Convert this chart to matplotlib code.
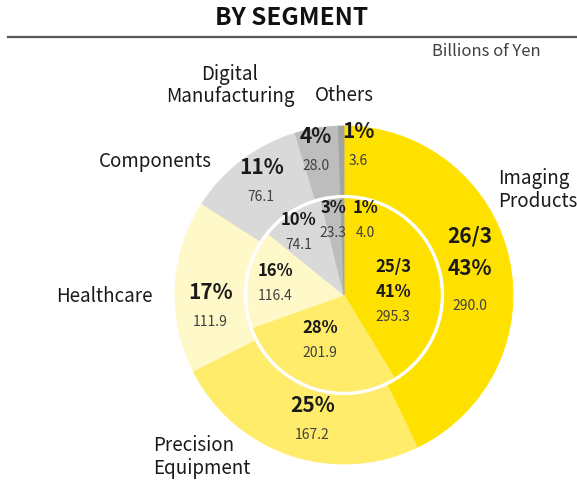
import numpy as np
import matplotlib
matplotlib.use("Agg")
import matplotlib.pyplot as plt
from matplotlib.lines import Line2D

plt.rcParams["font.family"] = ["Noto Sans CJK JP", "DejaVu Sans"]

segments = ["Imaging\nProducts", "Precision\nEquipment", "Healthcare",
            "Components", "Digital\nManufacturing", "Others"]
outer_vals = [290.0, 167.2, 111.9, 76.1, 28.0, 3.6]      # 26/3
outer_pct = ["43%", "25%", "17%", "11%", "4%", "1%"]
inner_vals = [295.3, 201.9, 116.4, 74.1, 23.3, 4.0]      # 25/3
inner_pct = ["41%", "28%", "16%", "10%", "3%", "1%"]
colors = ["#ffe100", "#ffec6a", "#fff8c9", "#d9d9d9", "#bdbdbd", "#a3a3a3"]

# label placement (radius in pie units, angle in degrees)
outer_lab_r = [0.76, 0.68, 0.79, 0.90, 0.95, 0.97]
outer_lab_a = [12, -106, 179, 123, 100, 85]
inner_lab_r = [0.29, 0.24, 0.43, 0.52, 0.52, 0.53]
inner_lab_a = [3, -126, 161, 121, 97, 76]
name_pos = [(0.91, 0.62, "left"), (-1.13, -0.96, "left"), (-1.135, -0.01, "right"),
            (-0.78, 0.79, "right"), (-0.675, 1.24, "center"), (0.005, 1.18, "center")]

fig = plt.figure(figsize=(5.77, 4.84), dpi=100)
ax = fig.add_axes([175 / 577, 20 / 484, 338 / 577, 338 / 484])

w_out, _ = ax.pie(outer_vals, radius=1.0, startangle=90, counterclock=False,
                  colors=colors, wedgeprops=dict(width=0.405, linewidth=0.6))
w_in, _ = ax.pie(inner_vals, radius=0.57, startangle=90, counterclock=False,
                 colors=colors, wedgeprops=dict(linewidth=0.6))
for w in list(w_out) + list(w_in):
    w.set_edgecolor(w.get_facecolor())
ax.set_xlim(-1, 1)
ax.set_ylim(-1, 1)
ax.set_aspect("equal")
ax.axis("off")

dark = "#1a1a1a"
grey = "#404040"


def pol(r, a):
    t = np.deg2rad(a)
    return r * np.cos(t), r * np.sin(t)


for i in range(len(outer_vals)):
    x, y = pol(outer_lab_r[i], outer_lab_a[i])
    ax.text(x, y, outer_pct[i], ha="center", va="center", fontsize=15,
            fontweight="bold", color=dark)
    gap = 27 if i == 0 else 21
    ax.annotate(f"{outer_vals[i]:.1f}", (x, y), xytext=(0, -gap),
                textcoords="offset points", ha="center", va="center",
                fontsize=10, color=grey)
    if i == 0:
        ax.annotate("26/3", (x, y), xytext=(0, 23), textcoords="offset points",
                    ha="center", va="center", fontsize=15, fontweight="bold",
                    color=dark)

for i in range(len(inner_vals)):
    x, y = pol(inner_lab_r[i], inner_lab_a[i])
    ax.text(x, y, inner_pct[i], ha="center", va="center", fontsize=12,
            fontweight="bold", color=dark)
    ax.annotate(f"{inner_vals[i]:.1f}", (x, y), xytext=(0, -18),
                textcoords="offset points", ha="center", va="center",
                fontsize=10, color=grey)
    if i == 0:
        ax.annotate("25/3", (x, y), xytext=(0, 18), textcoords="offset points",
                    ha="center", va="center", fontsize=12, fontweight="bold",
                    color=dark)

for name, (x, y, ha) in zip(segments, name_pos):
    ma = "center" if ha == "center" else "left"
    ax.text(x, y, name, ha=ha, va="center", fontsize=13.5, color=dark,
            linespacing=1.1, multialignment=ma)

fig.text(292 / 577, 1 - 18 / 484, "BY SEGMENT", ha="center", va="center",
         fontsize=17.5, fontweight="bold", color="#111111")
fig.add_artist(Line2D([8 / 577, 1.0], [1 - 37 / 484] * 2, color="#595959", lw=1.6))
fig.text(541 / 577, 1 - 52 / 484, "Billions of Yen", ha="right", va="center",
         fontsize=12, color=grey)

fig.savefig("out.png", dpi=100)
